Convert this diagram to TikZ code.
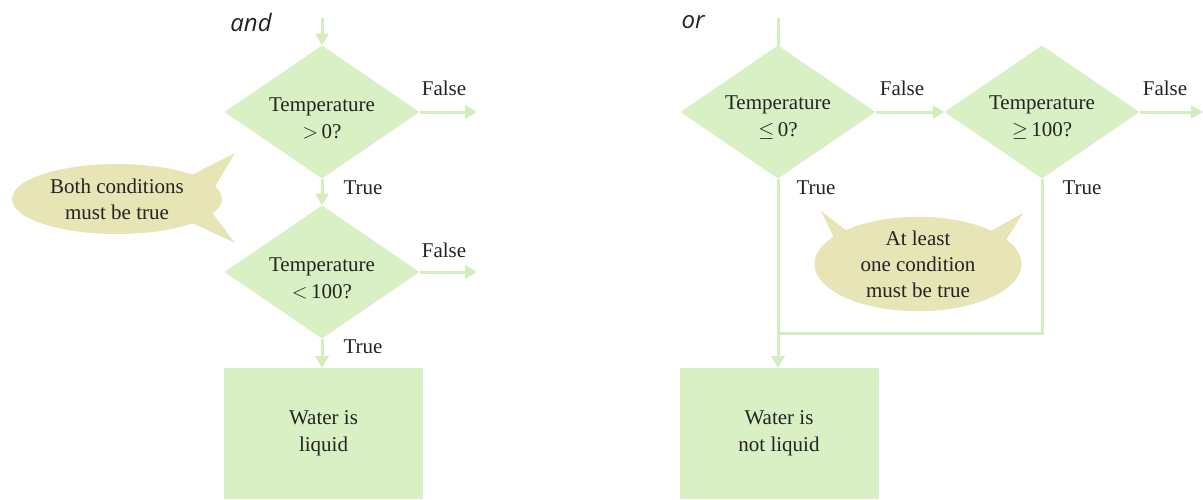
\documentclass[tikz,border=0pt]{standalone}
\usepackage{fontspec}
\setmainfont{Liberation Serif}
\newfontfamily\headfont{Open Sans}
\usetikzlibrary{shapes.geometric,arrows.meta}
\definecolor{boxgreen}{RGB}{216,240,196}
\definecolor{linegreen}{RGB}{212,237,192}
\definecolor{tan}{RGB}{231,228,182}
\definecolor{ink}{RGB}{35,35,35}
\tikzset{
  dec/.style={diamond, fill=boxgreen, draw=none, inner sep=0pt, outer sep=0pt,
    minimum width=195pt, minimum height=133pt, shape aspect=1.47},
  dectext/.style={align=center, text=ink, inner sep=0pt, font=\fontsize{21}{27}\selectfont},
  actbox/.style={rectangle, fill=boxgreen, draw=none, inner sep=0pt, outer sep=0pt,
    minimum width=199pt, minimum height=131pt,
    align=center, text=ink, font=\fontsize{21}{27}\selectfont},
  bubble/.style={ellipse, fill=tan, draw=none, inner sep=0pt,
    align=center, text=ink, font=\fontsize{21}{26}\selectfont},
  tail/.style={fill=tan, draw=none},
  lbl/.style={text=ink, font=\fontsize{21}{24}\selectfont, inner sep=0pt},
  head/.style={text=ink, font=\headfont\itshape\fontsize{24}{28}\selectfont, inner sep=0pt},
  conn/.style={draw=linegreen, line width=3pt},
  arr/.style={conn, -{Triangle[length=12pt,width=13pt]}},
}
\begin{document}
\begin{tikzpicture}[x=1pt,y=-1pt]
\useasboundingbox (0,0) rectangle (1203,499);

% ---------- left: and ----------
\node[head] (hand) at (251,22) {and};
\node[dec] (d1) at (322,112) {};
\node[dec] (d2) at (322,272) {};
\node[dectext] (d1t) at (322,118) {Temperature\\$>$\,0?};
\node[dectext] (d2t) at (322,278) {Temperature\\$<$\,100?};
\node[actbox] (b1) at (323.5,433.5) {Water is\\liquid};
\coordinate (s1) at (322,18);
\coordinate (f1) at (477,112);
\coordinate (f2) at (477,272);
\draw[arr] (s1) -- (d1.north);
\draw[arr] (d1.east) -- (f1);
\draw[arr] (d2.east) -- (f2);
\draw[arr] (d1.south) -- (d2.north);
\draw[arr] (d2.south) -- (b1.north -| d2.south);
\node[lbl] (lf1) at (444,88) {False};
\node[lbl] (lt1) at (363,188) {True};
\node[lbl] (lf2) at (444,250) {False};
\node[lbl] (lt2) at (363,347) {True};

% callout left
\coordinate (t1a) at (235,153);
\coordinate (t1b) at (235,243);
\fill[tail] (t1a) -- (213,190) -- (190,176) -- cycle;
\fill[tail] (t1b) -- (190,222) -- (210,210) -- cycle;
\node[bubble, minimum width=210pt, minimum height=70pt] (c1) at (117,199)
  {Both conditions\\must be true};

% ---------- right: or ----------
\node[head] (hor) at (693,22) {or};
\node[dec] (d3) at (778,112) {};
\node[dec] (d4) at (1042,112) {};
\node[dectext] (d3t) at (778,118) {Temperature\\$\leq$\,0?};
\node[dectext] (d4t) at (1042,118) {Temperature\\$\geq$\,100?};
\node[actbox] (b2) at (779,433.5) {Water is\\not liquid};
\coordinate (s2) at (778,18);
\coordinate (f4) at (1203,112);
\coordinate (j) at (778,333);
\draw[conn] (s2) -- (d3.north);
\draw[arr] (d3.east) -- (d4.west);
\draw[arr] (d4.east) -- (f4);
\draw[arr] (d3.south) -- (b2.north -| d3.south);
\draw[conn] (d4.south) |- (j);
\node[lbl] (lf3) at (902,88) {False};
\node[lbl] (lt3) at (816,188) {True};
\node[lbl] (lf4) at (1165,88) {False};
\node[lbl] (lt4) at (1082,188) {True};

% callout right
\coordinate (t2a) at (821,211);
\coordinate (t2b) at (1023,213);
\fill[tail] (t2a) -- (856,238) -- (840,250) -- cycle;
\fill[tail] (t2b) -- (1000,250) -- (982,236) -- cycle;
\node[bubble, minimum width=207pt, minimum height=92pt] (c2) at (918,264)
  {At least\\one condition\\must be true};
\end{tikzpicture}
\end{document}
